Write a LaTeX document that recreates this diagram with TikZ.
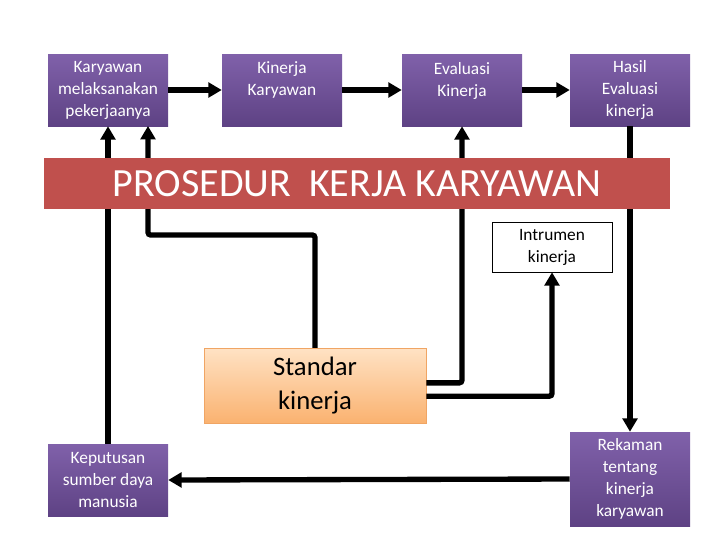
\documentclass[tikz,border=0pt]{standalone}
\usepackage{fontspec}
\setmainfont{Carlito}
\usetikzlibrary{positioning, arrows.meta, calc}

\definecolor{boxtop}{RGB}{128,97,170}
\definecolor{boxbot}{RGB}{94,66,132}
\definecolor{bannerred}{RGB}{192,80,77}
\definecolor{stdtop}{RGB}{255,226,196}
\definecolor{stdbot}{RGB}{250,178,112}
\definecolor{stdline}{RGB}{240,165,100}

\begin{document}
\begin{tikzpicture}[
    x=0.75pt, y=-0.75pt,
    >={Triangle[length=10pt, width=11pt]},
    purplebox/.style={top color=boxtop, bottom color=boxbot, text=white,
        minimum width=90pt, minimum height=54pt, align=center, inner sep=2pt,
        font=\fontsize{13}{16.5}\selectfont},
    flow/.style={line width=4pt, rounded corners=2pt}
]

\useasboundingbox (0,0) rectangle (720,540);

% top row
\node[purplebox] (kary) at (108,90) {Karyawan\\melaksanakan\\pekerjaanya};
\node[purplebox] (kin) at (282,90) {Kinerja\\Karyawan\\\mbox{}};
\node[purplebox] (eval) at (462,90) {Evaluasi\\Kinerja\\\mbox{}};
\node[purplebox] (hasil) at (630,90) {Hasil\\Evaluasi\\kinerja};

% middle
\node[draw, thin, fill=white, minimum width=90pt, minimum height=37.5pt,
    align=center, font=\fontsize{13}{16.5}\selectfont] (instr) at (552,247)
    {Intrumen\\kinerja};
\node[draw=stdline, top color=stdtop, bottom color=stdbot,
    minimum width=166.5pt, minimum height=56pt, align=center,
    font=\fontsize{20}{25}\selectfont] (std) at (315,385.5) {Standar\\kinerja};

% bottom row
\node[purplebox] (kep) at (108,480) {Keputusan\\sumber daya\\manusia};
\node[purplebox, minimum height=70.5pt] (rek) at (630,479)
    {Rekaman\\tentang\\kinerja\\karyawan};

% helper points
\coordinate (a2) at (148,126);
\coordinate (j1) at (148,235);

% connectors
\draw[->, line width=4pt] (kary) -- (kin);
\draw[->, line width=4pt] (kin) -- (eval);
\draw[->, line width=4pt] (eval) -- (hasil);
\draw[->, line width=4pt] (kep.north) -- (kary.south);
\draw[->, flow] (std.north) |- (j1) -- (a2);
\draw[->, flow] ([yshift=2pt]std.east) -| (eval.south);
\draw[->, flow] ([yshift=-8pt]std.east) -| (instr.south);
\draw[->, line width=4pt] (hasil.south) -- (rek.north);
\draw[->, line width=4pt] (rek.west) -- (kep.east);

% banner over the lines
\node[fill=bannerred, text=white, minimum width=469.5pt, minimum height=38pt,
    font=\fontsize{30}{36}\selectfont] (banner) at (357,183.5)
    {PROSEDUR\ \ KERJA KARYAWAN};

\end{tikzpicture}
\end{document}
